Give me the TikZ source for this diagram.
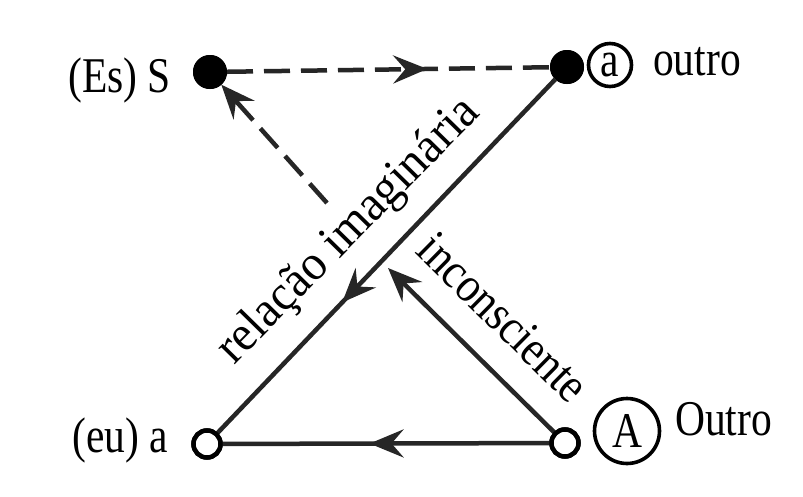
\documentclass[tikz,border=0pt]{standalone}
\usepackage{fontspec}
\setmainfont{Liberation Serif}[FakeStretch=0.83]
\newfontfamily\rotA{Liberation Serif}[FakeStretch=0.95]
\newfontfamily\rotB{Liberation Serif}[FakeStretch=0.87]
\usetikzlibrary{arrows.meta,decorations.markings}
\definecolor{ln}{HTML}{262626}
\tikzset{
  arr/.tip={Stealth[length=34pt,width=28pt,inset=12pt]},
  fillpt/.style={circle, fill=black, minimum size=34pt, inner sep=0pt, outer sep=0pt},
  openpt/.style={circle, draw=black, line width=4.5pt, fill=white, minimum size=27pt, inner sep=0pt, outer sep=1pt},
  circlbl/.style={circle, draw=black, line width=3.6pt, inner sep=0pt},
  lbl/.style={inner sep=0pt, font=\fontsize{50}{60}\selectfont},
  conn/.style={draw=ln, line width=4.5pt},
  dashconn/.style={conn, dash pattern=on 26pt off 11pt},
  midarrow/.style={postaction={decorate}, decoration={markings, mark=at position #1 with {\arrow{arr}}}}
}
\begin{document}
\begin{tikzpicture}[x=1pt,y=-1pt]
\useasboundingbox[fill=white] (0,0) rectangle (803,496);

% points
\node[fillpt] (S) at (210,72) {};
\node[fillpt] (ao) at (567,67) {};
\node[openpt] (ae) at (207,444) {};
\node[openpt] (A) at (565,443) {};
\coordinate (T) at (388,268);
\coordinate (D) at (327,203);

% connectors
\draw[dashconn, midarrow=0.62] (S) -- (ao);
\draw[conn, midarrow=0.63] (ao) -- (ae);
\draw[conn, midarrow=0.55] (A) -- (ae);
\draw[conn, -arr] (A) -- (T);
\draw[dashconn, -arr] (D) -- (S);

% redraw points on top
\node[fillpt] at (S) {};
\node[fillpt] at (ao) {};
\node[openpt] at (ae) {};
\node[openpt] at (A) {};

% labels
\node[lbl, anchor=base east] (lS) at (171,92) {(Es) S};
\node[lbl, anchor=base east] (lae) at (168,452) {(eu) a};
\node[lbl, circlbl, minimum size=43pt] (ca) at (610,65) {a};
\node[lbl, anchor=base west] (lao) at (653,75) {outro};
\node[lbl, circlbl, minimum size=65pt] (cA) at (627,431) {A};
\node[lbl, anchor=base west] (lA) at (675,435) {Outro};

% rotated labels
\node[inner sep=0pt, anchor=base, rotate=45.6, font=\rotA\fontsize{50}{60}\selectfont] (ri) at (358,240) {relação imaginária};
\node[inner sep=0pt, anchor=base, rotate=-44.6, font=\rotB\fontsize{50}{60}\selectfont] (inc) at (492,329) {inconsciente};
\end{tikzpicture}
\end{document}
